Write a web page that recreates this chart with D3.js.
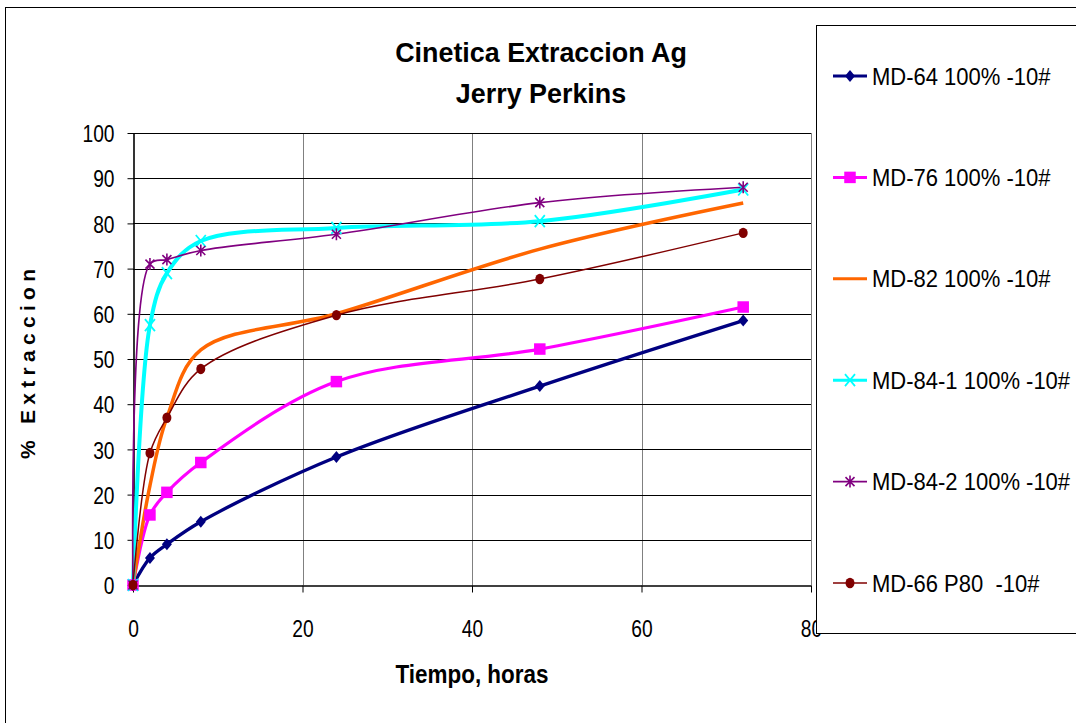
<!DOCTYPE html>
<html>
<head>
<meta charset="utf-8">
<script src="https://cdn.jsdelivr.net/npm/d3@7"></script>
<style>
  body { margin: 0; background: #fff; }
  text { font-family: "Liberation Sans", Arial, sans-serif; }
</style>
</head>
<body>
<div id="chart"></div>
<script>
// time in hours
var horas = [0, 2, 4, 8, 24, 48, 72];

// % extraction per series
var md64 = [0, 6.0, 9.0, 14.0, 28.3, 44.0, 58.5];
var md76 = [0, 15.5, 20.5, 27.1, 45.0, 52.2, 61.5];
var md82 = [0, 22.0, 37.0, 52.0, 60.0, 74.3, 84.5];
var md841 = [0, 57.5, 69.0, 76.1, 79.0, 80.5, 87.5];
var md842 = [0, 71.0, 72.0, 74.0, 77.6, 84.6, 88.0];
var md66 = [0, 29.2, 37.0, 47.8, 59.7, 67.7, 77.9];

var seriesNames = ["MD-64 100% -10#", "MD-76 100% -10#", "MD-82 100% -10#",
  "MD-84-1 100% -10#", "MD-84-2 100% -10#", "MD-66 P80  -10#"];
var xTicks = [0, 20, 40, 60, 80];
var yTicks = [0, 10, 20, 30, 40, 50, 60, 70, 80, 90, 100];

var series = [
  {name: seriesNames[0], values: md64, color: "#000080", width: 3.3, marker: "diamond"},
  {name: seriesNames[1], values: md76, color: "#FF00FF", width: 3.2, marker: "square"},
  {name: seriesNames[2], values: md82, color: "#FF6600", width: 3.5, marker: "none"},
  {name: seriesNames[3], values: md841, color: "#00FFFF", width: 4, marker: "x"},
  {name: seriesNames[4], values: md842, color: "#800080", width: 1.7, marker: "star"},
  {name: seriesNames[5], values: md66, color: "#800000", width: 1.5, marker: "circle"}
];

var svgWidth = 1076, svgHeight = 723;
var plot = {left: 133, top: 133, right: 811, bottom: 585};

var svg = d3.select("#chart").append("svg")
  .attr("width", svgWidth)
  .attr("height", svgHeight);

// chart area border
svg.append("rect")
  .attr("x", 5.5).attr("y", 7.5)
  .attr("width", 1200).attr("height", 900)
  .attr("fill", "#fff").attr("stroke", "#000").attr("stroke-width", 1);

var xScale = d3.scaleLinear().domain([0, 80]).range([plot.left, plot.right]);
var yScale = d3.scaleLinear().domain([0, 100]).range([plot.bottom, plot.top]);

// gridlines
svg.append("g").selectAll("line")
  .data(xTicks.slice(1))
  .enter().append("line")
  .attr("x1", d => Math.round(xScale(d)) + 0.5)
  .attr("x2", d => Math.round(xScale(d)) + 0.5)
  .attr("y1", plot.top).attr("y2", plot.bottom)
  .attr("stroke", "#808080").attr("stroke-width", 1);

svg.append("g").selectAll("line")
  .data(yTicks.slice(1))
  .enter().append("line")
  .attr("x1", plot.left).attr("x2", plot.right)
  .attr("y1", d => Math.round(yScale(d)) + 0.5)
  .attr("y2", d => Math.round(yScale(d)) + 0.5)
  .attr("stroke", "#000").attr("stroke-width", 1);

// axes
var xAxis = d3.axisBottom(xScale).tickValues(xTicks).tickSize(7).tickSizeOuter(0);
var yAxis = d3.axisLeft(yScale).tickValues(yTicks).tickSize(6).tickSizeOuter(0);

var gx = svg.append("g")
  .attr("transform", `translate(0, ${plot.bottom + 0.5})`)
  .call(xAxis);
var gy = svg.append("g")
  .attr("transform", `translate(${plot.left + 0.5}, 0)`)
  .call(yAxis);

[gx, gy].forEach(g => {
  g.select(".domain").attr("stroke", "#000").attr("stroke-width", 1.6);
  g.selectAll(".tick line").attr("stroke", "#000");
  g.selectAll(".tick text")
    .attr("font-family", null)
    .attr("font-size", 24)
    .attr("fill", "#000");
});
// narrow-looking tick labels
gx.selectAll(".tick text")
  .attr("y", 0).attr("dy", 0)
  .attr("transform", "translate(0, 51) scale(0.8, 1)");
gy.selectAll(".tick text")
  .attr("x", 0).attr("dy", "0.36em")
  .attr("transform", "translate(-19, 0) scale(0.8, 1)");

// lines
var line = d3.line()
  .x((d, i) => xScale(horas[i]))
  .y(d => yScale(d))
  .curve(d3.curveCatmullRom.alpha(0.5));

svg.append("g").selectAll("path")
  .data(series)
  .enter().append("path")
  .attr("d", d => line(d.values))
  .attr("fill", "none")
  .attr("stroke", d => d.color)
  .attr("stroke-width", d => d.width)
  .attr("stroke-linejoin", "round");

// markers
function drawMarker(g, type, color, x, y) {
  if (type === "diamond") {
    g.append("path").attr("d", `M${x},${y - 6}L${x + 5},${y}L${x},${y + 6}L${x - 5},${y}Z`)
      .attr("fill", color);
  } else if (type === "square") {
    var s = 11.5;
    g.append("rect").attr("x", x - s / 2).attr("y", y - s / 2)
      .attr("width", s).attr("height", s).attr("fill", color);
  } else if (type === "x") {
    g.append("path").attr("d", `M${x - 5},${y - 6}L${x + 5},${y + 6}M${x - 5},${y + 6}L${x + 5},${y - 6}`)
      .attr("stroke", color).attr("stroke-width", 1.8);
  } else if (type === "star") {
    g.append("path").attr("d", `M${x - 4.5},${y - 4.5}L${x + 4.5},${y + 4.5}M${x - 4.5},${y + 4.5}L${x + 4.5},${y - 4.5}M${x},${y - 6}L${x},${y + 6}`)
      .attr("stroke", color).attr("stroke-width", 1.6);
  } else if (type === "circle") {
    g.append("ellipse").attr("cx", x).attr("cy", y)
      .attr("rx", 4.5).attr("ry", 5.2).attr("fill", color);
  }
}

var markerGroup = svg.append("g");
series.forEach(s => {
  s.values.forEach((v, i) => {
    drawMarker(markerGroup, s.marker, s.color, xScale(horas[i]), yScale(v));
  });
});

// titles
svg.append("text")
  .attr("transform", "translate(541, 62) scale(0.96, 1)")
  .attr("text-anchor", "middle")
  .attr("font-size", 28).attr("font-weight", "bold")
  .text("Cinetica Extraccion Ag");
svg.append("text")
  .attr("transform", "translate(541, 103) scale(0.96, 1)")
  .attr("text-anchor", "middle")
  .attr("font-size", 28).attr("font-weight", "bold")
  .text("Jerry Perkins");

svg.append("text")
  .attr("transform", "translate(472, 683) scale(0.88, 1)")
  .attr("text-anchor", "middle")
  .attr("font-size", 25.5).attr("font-weight", "bold")
  .text("Tiempo, horas");

svg.append("text")
  .attr("transform", "translate(35, 364) rotate(-90)")
  .attr("text-anchor", "middle")
  .attr("font-size", 21).attr("font-weight", "bold")
  .attr("textLength", 190).attr("lengthAdjust", "spacing")
  .text("% Extraccion");

// legend
var legend = svg.append("g");
legend.append("rect")
  .attr("x", 816.5).attr("y", 25.5)
  .attr("width", 400).attr("height", 608)
  .attr("fill", "#fff").attr("stroke", "#000").attr("stroke-width", 1);

var legendY = d3.scalePoint().domain(seriesNames).range([76, 583]);

series.forEach(s => {
  var y = legendY(s.name);
  legend.append("line")
    .attr("x1", 833).attr("x2", 867)
    .attr("y1", y).attr("y2", y)
    .attr("stroke", s.color).attr("stroke-width", Math.min(s.width, 3));
  drawMarker(legend, s.marker, s.color, 850, y);
  legend.append("text")
    .attr("transform", `translate(872, ${y}) scale(0.917, 1)`)
    .attr("dy", "0.36em")
    .attr("font-size", 24)
    .style("white-space", "pre")
    .text(s.name);
});
</script>
</body>
</html>
